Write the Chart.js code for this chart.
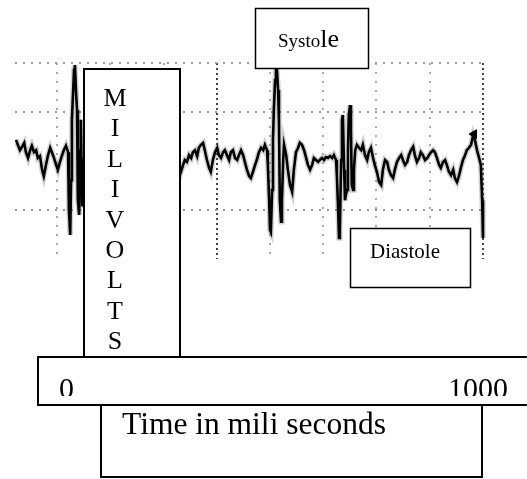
<!DOCTYPE html>
<html><head><meta charset="utf-8">
<script src="https://cdn.jsdelivr.net/npm/chart.js@4.4.1/dist/chart.umd.min.js"></script>
<style>html,body{margin:0;padding:0;background:#fff;}canvas{display:block;}</style>
</head><body>
<canvas id="c" width="527" height="479"></canvas>
<script>
// ---- Data (time in ms, amplitude in mV) ----
const timeMs = [
 -96,-92,-87,-82,-77,-73,-68,-63,-59,-54,-49,-45,-40,-35,-31,-26,-21,-16,-12,-7,-2,2,7,12,16,21,26,
 28,31,33,35,38,40,42,45,47,49,52,54,56,59,61,
 77,101,124,148,171,195,218,242,265,284,
 291,296,300,305,310,315,319,324,329,333,338,343,347,352,357,361,366,371,376,380,385,390,394,399,404,408,413,418,423,427,432,437,441,446,451,455,460,465,469,474,479,484,488,493,
 495,498,500,502,505,507,509,512,514,516,519,521,523,526,528,531,533,
 538,542,547,552,556,561,566,570,575,580,585,589,594,599,603,608,613,617,622,627,631,636,641,646,650,655,
 657,660,662,664,667,669,671,674,676,678,681,683,685,688,690,692,695,697,700,
 704,709,714,718,723,728,732,737,742,746,751,756,761,765,770,775,779,784,789,793,798,803,808,812,817,822,826,831,836,840,845,850,854,859,864,869,873,878,883,887,892,897,901,906,911,915,920,925,930,934,939,944,948,953,958,962,967,972,977,981,986,991,995,998,1000
];
const millivolts = [
 0.43,0.33,0.22,0.29,0.37,0.18,0.06,0.22,0.31,0.18,0.22,0.06,0.10,-0.18,-0.31,-0.08,0.12,0.27,0.18,0.06,-0.08,-0.18,-0.02,0.12,0.22,0.31,0.18,
 -1.00,-1.51,-0.39,0.84,1.45,1.86,1.96,1.35,1.04,-0.80,-1.10,0.22,0.84,-0.90,0.02,
 0.12,0.22,0.02,0.18,0.06,0.22,0.02,0.12,0.22,-0.08,
 -0.22,-0.08,0.02,-0.02,0.12,0.06,0.18,0.22,0.10,0.27,0.33,0.37,0.22,0.02,-0.14,-0.22,0.02,0.18,0.27,0.12,0.06,0.18,0.22,0.12,0.02,0.18,0.22,0.06,0.02,0.12,0.22,0.12,-0.02,-0.18,-0.31,-0.35,-0.22,-0.08,0.02,0.18,0.27,0.22,0.33,0.22,
 -0.08,-0.80,-1.41,-1.45,-0.59,0.43,1.04,1.65,1.86,1.90,1.45,0.84,-0.80,-1.24,-0.80,0.02,0.33,
 0.12,-0.18,-0.49,-0.63,-0.18,0.18,0.27,0.37,0.33,0.22,0.06,-0.08,-0.18,-0.08,0.06,0.02,-0.02,0.02,0.06,0.02,0.08,0.06,0.10,0.06,0.12,0.02,
 -0.29,-1.00,-1.57,-1.41,0.02,0.84,0.94,-0.18,-0.80,-0.69,-0.59,0.22,0.94,1.14,0.63,-0.49,-0.59,-0.18,0.22,
 0.33,0.27,0.22,0.33,0.12,0.02,0.18,0.27,0.06,-0.08,-0.22,-0.43,-0.49,-0.18,0.02,-0.02,-0.18,-0.29,-0.35,-0.18,-0.02,0.06,0.12,0.02,-0.08,-0.02,0.12,0.22,0.29,0.12,-0.02,0.06,0.18,0.12,0.02,0.06,0.12,0.18,0.22,0.18,0.06,-0.08,-0.14,-0.02,0.02,-0.08,-0.22,-0.29,-0.18,-0.35,-0.43,-0.29,-0.14,0.02,0.12,0.22,0.27,0.33,0.53,0.43,0.22,0.06,-0.08,-0.80,-1.57
];
const markerMs = [979];
const markerMv = [0.55];
const xGridMs = [0,125,250,375,500,625,750,875,1000];
const yGridMv = [-2,-1,0,1,2];
const xTickLabels = ['0','1000'];
const yAxisTitle = 'MILIVOLTS';
const xAxisTitle = 'Time in mili seconds';
const phaseLabels = ['Systole','Diastole'];

const signal = timeMs.map((t,i)=>({x:t,y:millivolts[i]}));
const marker = markerMs.map((t,i)=>({x:t,y:markerMv[i]}));

const SERIF = '"Liberation Serif","DejaVu Serif",serif';

const annotate = {
  id:'annotate',
  afterDraw(chart){
    const ctx = chart.ctx;
    const xs = chart.scales.x;
    function box(x1,y1,x2,y2,lw){
      ctx.save();
      ctx.fillStyle='#fff';
      ctx.fillRect(x1,y1,x2-x1,y2-y1);
      ctx.strokeStyle='#000';
      ctx.lineWidth=lw;
      ctx.strokeRect(x1,y1,x2-x1,y2-y1);
      ctx.restore();
    }
    ctx.save();
    ctx.fillStyle='#000';
    ctx.textBaseline='alphabetic';
    // Systole box
    box(255.5,8.5,368.5,68.5,1.5);
    ctx.font='19px '+SERIF;
    ctx.textAlign='left';
    const first = phaseLabels[0].slice(0,5), rest = phaseLabels[0].slice(5);
    ctx.fillText(first,278,47);
    const w1 = ctx.measureText(first).width;
    ctx.font='26px '+SERIF;
    ctx.fillText(rest,278+w1,47);
    // Diastole box
    box(350.5,228.5,470.5,287.5,1.5);
    ctx.font='21px '+SERIF;
    ctx.fillText(phaseLabels[1],370,258);
    // axis tick box
    box(38,357,540,405,2);
    ctx.save();
    ctx.beginPath(); ctx.rect(38,358,500,38); ctx.clip();
    ctx.font='30px '+SERIF;
    ctx.textAlign='left';
    ctx.fillText(xTickLabels[0], xs.getPixelForValue(0)+2, 398);
    ctx.textAlign='right';
    ctx.fillText(xTickLabels[1], xs.getPixelForValue(1000)+25, 398);
    ctx.restore();
    // time box
    box(101,405,482,477,2);
    ctx.font='31.5px '+SERIF;
    ctx.textAlign='left';
    ctx.fillText(xAxisTitle,122,434);
    // MILIVOLTS vertical box
    box(84,69,180,357,2);
    ctx.font='26px '+SERIF;
    ctx.textAlign='center';
    const letters = yAxisTitle.split('');
    letters.forEach((ch,i)=>{
      ctx.fillText(ch,115,106+i*30.4);
    });
    ctx.restore();
  }
};

new Chart(document.getElementById('c'),{
  type:'line',
  data:{datasets:[
    {data:signal,borderColor:'#000',borderWidth:2.6,pointRadius:0,tension:0,order:1},
    {data:signal,borderColor:'rgba(90,90,90,0.28)',borderWidth:5.5,pointRadius:0,tension:0,order:2},
    {type:'scatter',data:marker,pointStyle:'triangle',rotation:-90,pointRadius:5,backgroundColor:'#000',borderColor:'#000',order:0}
  ]},
  options:{
    responsive:false,animation:false,devicePixelRatio:1,
    layout:{padding:{left:15,top:63,right:40,bottom:220}},
    plugins:{legend:{display:false},tooltip:{enabled:false}},
    scales:{
      x:{type:'linear',min:-98.6,max:1009.4,
        afterBuildTicks:s=>{s.ticks=xGridMs.map(v=>({value:v}));},
        ticks:{display:false},
        grid:{drawTicks:false,lineWidth:2,
          color:c=>(c.tick && (c.tick.value===375||c.tick.value===1000))?'#444':'#aaa'},
        border:{display:false,
          dash:c=>(c.tick && (c.tick.value===375||c.tick.value===1000))?[2,3]:[2,7]}
      },
      y:{type:'linear',min:-2,max:2,
        afterBuildTicks:s=>{s.ticks=yGridMv.map(v=>({value:v}));},
        ticks:{display:false},
        grid:{drawTicks:false,lineWidth:2,
          color:c=>(c.tick && (c.tick.value===-2||c.tick.value===0))?'rgba(0,0,0,0)':'#999'},
        border:{display:false,dash:[2,6]}
      }
    }
  },
  plugins:[annotate]
});
</script>
</body></html>
